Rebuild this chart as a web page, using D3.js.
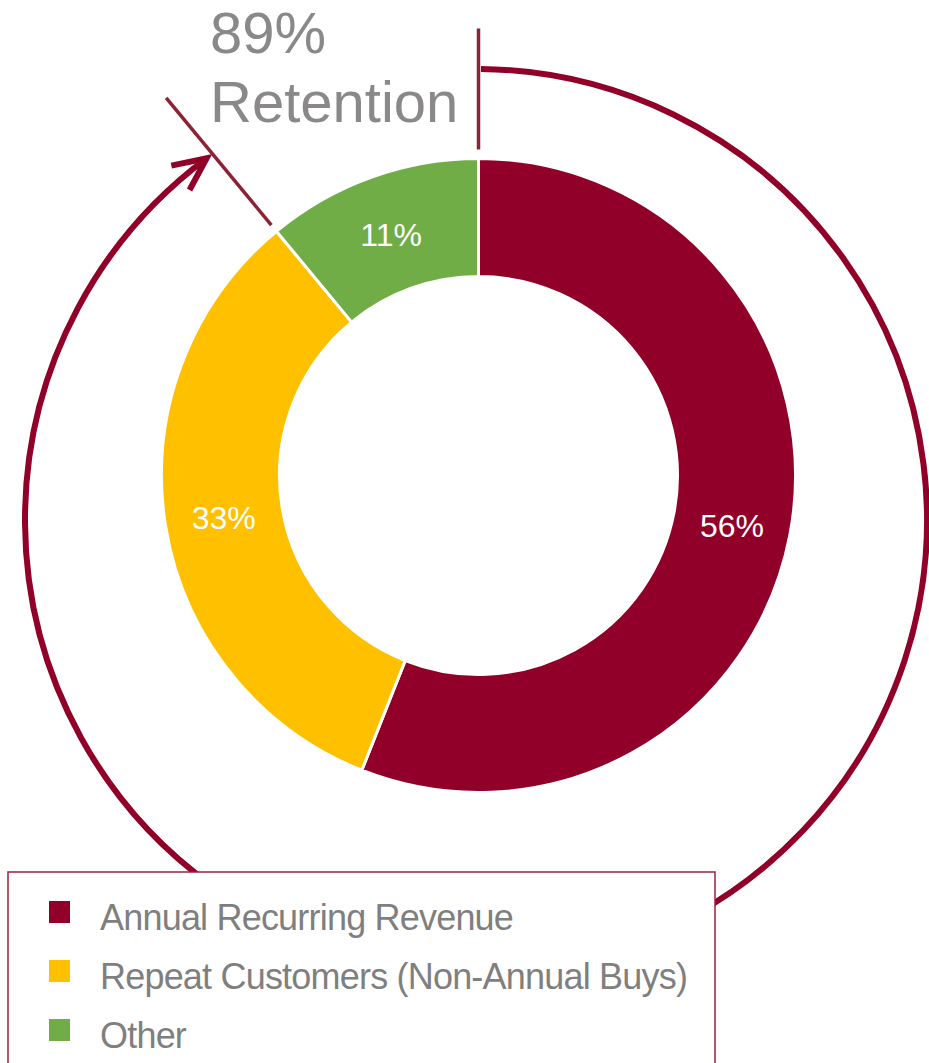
<!DOCTYPE html>
<html>
<head>
<meta charset="utf-8">
<script src="https://cdn.jsdelivr.net/npm/d3@7"></script>
<style>
  html, body { margin: 0; padding: 0; background: #ffffff; overflow: hidden; }
  svg { display: block; }
  text { font-family: "Liberation Sans", Arial, Helvetica, sans-serif; }
</style>
</head>
<body>
<svg id="chart" width="929" height="1063"></svg>
<script>
// ---- data ----
const categories = ["Annual Recurring Revenue", "Repeat Customers (Non-Annual Buys)", "Other"];
const values = [56, 33, 11];
const sliceLabels = ["56%", "33%", "11%"];
const retentionLines = ["89%", "Retention"];

// ---- styles ----
const colors = ["#910028", "#FFC000", "#70AD47"];
const textGray = "#7f7f7f";
const annotGray = "#8a8888";
const arcColor = "#910028";
const markColor = "#8c2234";

const W = 929, H = 1063;
const svg = d3.select("#chart");

const cx = 478.5, cy = 475.5;
const outerR = 317, innerR = 199;

const pie = d3.pie().sort(null).value(d => d).startAngle(0).endAngle(2 * Math.PI);
const arcs = pie(values);
const arcGen = d3.arc().innerRadius(innerR).outerRadius(outerR);

// ---- big retention arc (drawn first, legend covers it) ----
const rcx = 476, rcy = 520, rR = 451;
const startA = 0.011;                     // angle from top, clockwise (radians)
const endA = 5.643;
const p = d3.path();
p.arc(rcx, rcy, rR, -Math.PI / 2 + startA, -Math.PI / 2 + endA, false);
svg.append("path")
  .attr("d", p.toString())
  .attr("fill", "none")
  .attr("stroke", arcColor)
  .attr("stroke-width", 6);

// arrow head (open V) at end of arc
const tipX = rcx + rR * Math.sin(endA), tipY = rcy - rR * Math.cos(endA);
const back = Math.atan2(-Math.sin(endA), -Math.cos(endA));
const barbLen = 36, barbSpread = 25 * Math.PI / 180;
const barbs = [back - barbSpread, back + barbSpread].map(a => [tipX + barbLen * Math.cos(a), tipY + barbLen * Math.sin(a)]);
svg.append("path")
  .attr("d", `M${barbs[0][0]},${barbs[0][1]}L${tipX},${tipY}L${barbs[1][0]},${barbs[1][1]}`)
  .attr("fill", "none")
  .attr("stroke", arcColor)
  .attr("stroke-width", 6)
  .attr("stroke-linejoin", "miter");

// ---- donut ----
const g = svg.append("g").attr("transform", `translate(${cx},${cy})`);
g.selectAll("path.slice")
  .data(arcs)
  .join("path")
  .attr("class", "slice")
  .attr("d", arcGen)
  .attr("fill", (d, i) => colors[i])
  .attr("stroke", "#ffffff")
  .attr("stroke-width", 3)
  .attr("stroke-linejoin", "miter");

g.selectAll("text.lbl")
  .data(arcs)
  .join("text")
  .attr("class", "lbl")
  .attr("transform", d => { const c = arcGen.centroid(d); return `translate(${c[0]},${c[1] + 2})`; })
  .attr("text-anchor", "middle")
  .attr("dominant-baseline", "central")
  .attr("fill", "#ffffff")
  .attr("font-size", 32)
  .text((d, i) => sliceLabels[i]);

// ---- annotation tick marks at retention boundaries ----
function radialLine(angle, r0, r1) {
  return [[cx + r0 * Math.sin(angle), cy - r0 * Math.cos(angle)],
          [cx + r1 * Math.sin(angle), cy - r1 * Math.cos(angle)]];
}
const startBoundary = arcs[0].startAngle;         // top
const endBoundary = arcs[1].endAngle;             // end of retained share
const marks = [radialLine(startBoundary, 326, 447), radialLine(endBoundary, 325, 490)];
svg.selectAll("line.mark")
  .data(marks)
  .join("line")
  .attr("class", "mark")
  .attr("x1", d => d[0][0]).attr("y1", d => d[0][1])
  .attr("x2", d => d[1][0]).attr("y2", d => d[1][1])
  .attr("stroke", markColor)
  .attr("stroke-width", 3.5);

// ---- retention text ----
svg.selectAll("text.ret")
  .data(retentionLines)
  .join("text")
  .attr("class", "ret")
  .attr("x", 210)
  .attr("y", (d, i) => 53 + i * 69)
  .attr("fill", annotGray)
  .attr("font-size", 58)
  .text(d => d);

// ---- legend ----
const legend = svg.append("g");
legend.append("rect")
  .attr("x", 8).attr("y", 872)
  .attr("width", 707).attr("height", 220)
  .attr("fill", "#ffffff")
  .attr("stroke", "#9b2040")
  .attr("stroke-width", 1.5);

const rowY = d3.scalePoint().domain(categories).range([912, 1030]);
const items = legend.selectAll("g.item")
  .data(categories)
  .join("g")
  .attr("class", "item")
  .attr("transform", d => `translate(0,${rowY(d)})`);
items.append("rect")
  .attr("x", 49).attr("y", -11)
  .attr("width", 21).attr("height", 22)
  .attr("fill", (d, i) => colors[i]);
items.append("text")
  .attr("x", 100)
  .attr("y", 18)
  .attr("fill", textGray)
  .attr("font-size", 36)
  .attr("letter-spacing", "-0.8px")
  .text(d => d);
</script>
</body>
</html>
